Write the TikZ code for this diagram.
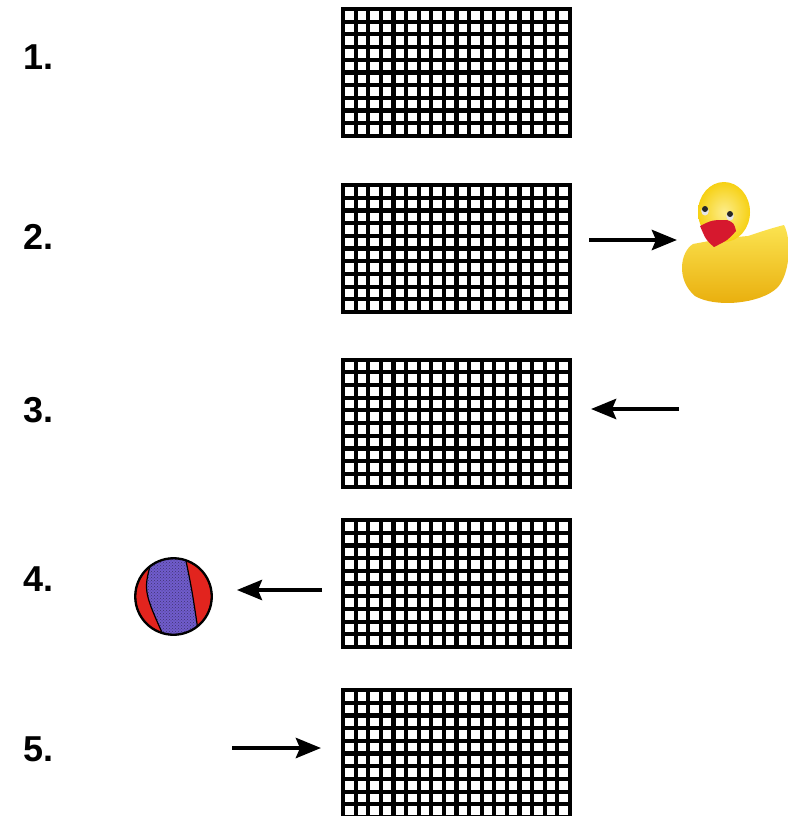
\documentclass[tikz,border=0pt]{standalone}
\usepackage{fontspec}
\setmainfont{Liberation Sans}
\usetikzlibrary{arrows.meta,patterns,calc}

\definecolor{duckyellow}{RGB}{250,218,22}
\definecolor{duckshade}{RGB}{232,172,10}
\definecolor{beakred}{RGB}{214,24,46}
\definecolor{ballred}{RGB}{226,36,30}
\definecolor{ballblue}{RGB}{112,92,204}

\tikzset{
  netbox/.style={draw, line width=4pt, minimum width=227pt, minimum height=127pt,
    inner sep=0pt, outer sep=0pt},
  netline/.style={line width=4.2pt},
  steplabel/.style={font=\fontsize{36}{40}\selectfont\bfseries, anchor=west, inner sep=0pt},
  push/.style={line width=4.5pt, -{Stealth[length=25pt,width=20pt,inset=4pt]}},
}

\begin{document}
\begin{tikzpicture}[x=1pt, y=-1pt]
\useasboundingbox (0,0) rectangle (788,816);

% the five nets, 18 x 10 cells each
\foreach \n/\y/\ly in {1/72.5/57, 2/248.5/237, 3/423/410, 4/583.5/579, 5/753.5/749} {
  \node[steplabel] (lab\n) at (23,\ly) {\n.};
  \node[netbox] (net\n) at (456.5,\y) {};
  \foreach \i in {1,...,17}
    \draw[netline] ($(net\n.north west)!\i/18!(net\n.north east)$) --
                   ($(net\n.south west)!\i/18!(net\n.south east)$);
  \foreach \j in {1,...,9}
    \draw[netline] ($(net\n.north west)!\j/10!(net\n.south west)$) --
                   ($(net\n.north east)!\j/10!(net\n.south east)$);
}

% duck
\coordinate (duck) at (677,240);
\shade[top color=duckyellow!75!white, middle color=duckyellow, bottom color=duckshade]
  (693,244) .. controls (680,252) and (676,280) .. (695,296)
  .. controls (715,308) and (760,304) .. (777,288)
  .. controls (790,275) and (792,240) .. (784,225)
  .. controls (772,228) and (760,232) .. (748,236)
  -- (725,238) -- cycle;
\shade[inner color=duckyellow!50!white, outer color=duckyellow!80!duckshade]
  (724,212) ellipse (26 and 30);
\fill[beakred] (700,226) .. controls (712,220) .. (727,220)
  .. controls (734,223) .. (736,231) .. controls (728,240) .. (714,247)
  .. controls (706,240) .. (700,226) -- cycle;
\fill[white!80!gray] (705,211) ellipse (3.8 and 4.5) (730,216) ellipse (3.8 and 4.5);
\fill[black!85] (705,209) circle (3) (730,214) circle (3);

% ball
\node[circle, draw, line width=1.8pt, fill=ballred, minimum size=77pt, inner sep=0pt] (ball) at (173.5,596.5) {};
\begin{scope}
  \clip (ball.center) circle (37.5);
  \fill[ballblue] (153,556) .. controls (143,590) .. (164,637) -- (199,637)
    .. controls (192,590) .. (185,556) -- cycle;
  \fill[pattern=crosshatch dots, pattern color=ballblue!55!black] (153,556) .. controls (143,590) .. (164,637) -- (199,637)
    .. controls (192,590) .. (185,556) -- cycle;
  \draw[line width=1.2pt] (153,556) .. controls (143,590) .. (164,637);
  \draw[line width=1.2pt] (185,556) .. controls (192,590) .. (199,637);
\end{scope}
\draw[line width=1.8pt] (ball.center) circle (38);

% arrows
\coordinate (pull) at (679,409);
\coordinate (toss) at (322,590);
\coordinate (feed) at (232,748);
\draw[push] ([xshift=19pt]duck -| net2.east) -- (duck);
\draw[push] (pull) -- ([xshift=21pt]pull -| net3.east);
\draw[push] (toss) -- ([xshift=24pt]toss -| ball.east);
\draw[push] (feed) -- ([xshift=-22pt]feed -| net5.west);

\end{tikzpicture}
\end{document}
